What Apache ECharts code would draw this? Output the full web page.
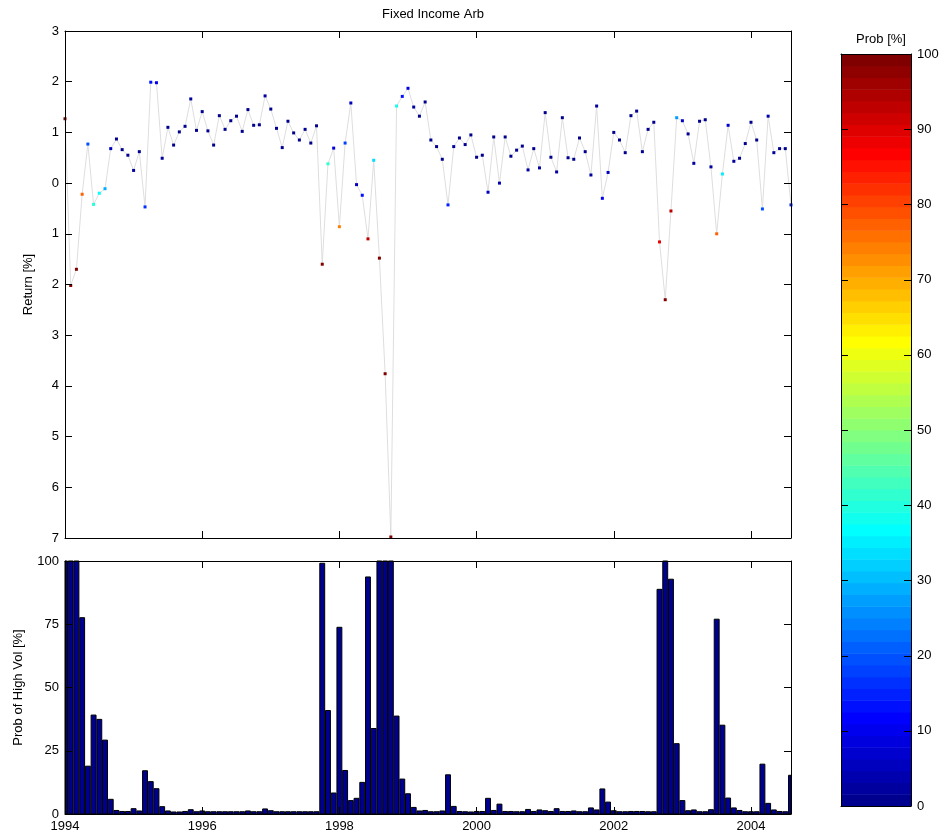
<!DOCTYPE html>
<html>
<head>
<meta charset="utf-8">
<script src="https://cdn.jsdelivr.net/npm/echarts@6/dist/echarts.min.js"></script>
<style>
html,body{margin:0;padding:0;background:#fff;}
#chart{width:945px;height:837px;}
</style>
</head>
<body>
<div id="chart"></div>
<script>
// ---- data ----
const startYear = 1994;
const monthlyReturn = [
  1.27,-2.02,-1.70,-0.22,0.77,-0.42,-0.20,-0.11,0.68,0.87,0.66,0.55,0.25,0.62,-0.47,1.99,1.98,0.49,1.10,0.75,1.01,1.12,1.66,1.04,1.41,1.03,0.75,1.33,1.06,1.23,1.32,1.02,1.45,
  1.14,1.15,1.72,1.46,1.08,0.70,1.22,0.99,0.85,1.06,0.79,1.13,-1.60,0.38,0.69,-0.86,0.79,1.58,-0.03,-0.24,-1.10,0.45,-1.48,-3.76,-6.98,1.52,1.71,1.87,1.50,1.32,1.60,
  0.85,0.72,0.47,-0.43,0.72,0.89,0.76,0.95,0.51,0.55,-0.18,0.91,0.00,0.91,0.53,0.65,0.73,0.26,0.68,0.30,1.39,0.51,0.22,1.29,0.50,0.47,0.89,0.62,0.16,1.52,-0.30,0.21,
  1.00,0.85,0.60,1.33,1.42,0.62,1.06,1.20,-1.16,-2.30,-0.55,1.29,1.23,0.97,0.39,1.22,1.25,0.32,-1.00,0.18,1.14,0.43,0.49,0.78,1.20,0.85,-0.51,1.32,0.60,0.68,0.68,-0.43
];
const probHighVol = [
  100,100,100,77.6,18.9,39.1,37.4,29.2,5.8,1.4,1.0,1.0,2.1,1.2,17.1,12.8,10.0,2.9,1.2,0.8,0.8,1.0,1.7,0.9,1.2,0.9,0.9,0.9,0.9,0.9,0.9,0.9,1.2,
  0.9,0.9,2.0,1.3,0.9,0.9,0.9,0.9,0.9,0.9,0.9,0.9,99.1,40.9,8.3,73.8,17.2,5.3,6.2,12.5,93.7,33.8,100,100,100,38.7,13.8,8.0,2.6,1.2,1.4,
  0.9,0.9,1.2,15.5,3.0,1.0,0.9,0.8,1.0,1.0,6.2,1.4,3.9,1.0,1.0,0.9,0.9,1.8,1.0,1.6,1.3,1.0,2.1,1.0,1.0,1.2,0.9,0.9,2.4,1.6,9.9,4.7,
  1.3,0.9,0.9,1.0,1.0,1.0,0.9,0.9,88.8,100,92.8,27.8,5.3,1.3,1.6,0.9,0.9,1.7,77.0,35.1,6.3,2.4,1.4,0.9,0.9,0.9,19.7,4.2,1.6,1.0,0.9,15.3
];
const returnTicks = [3,2,1,0,-1,-2,-3,-4,-5,-6,-7];
const probTicks = [0,25,50,75,100];
const colorbarTicks = [0,10,20,30,40,50,60,70,80,90,100];
const yearTicks = [1994,1996,1998,2000,2002,2004];

// ---- jet colormap (64 levels, MATLAB style) ----
function jetMap(m){
  const n = Math.ceil(m/4);
  const u = [];
  for(let i=1;i<=n;i++) u.push(i/n);
  for(let i=0;i<n-1;i++) u.push(1);
  for(let i=n;i>=1;i--) u.push(i/n);
  const gOff = Math.ceil(n/2) - (m%4===1?1:0);
  const J = [];
  for(let i=0;i<m;i++) J.push([0,0,0]);
  for(let k=0;k<u.length;k++){
    const g = gOff + k + 1, r = g + n, b = g - n;
    if(r<=m) J[r-1][0]=u[k];
    if(g<=m) J[g-1][1]=u[k];
    if(b>=1) J[b-1][2]=u[k];
  }
  return J.map(c=>'rgb('+c.map(v=>Math.round(v*255)).join(',')+')');
}
const JET = jetMap(64);
function probColor(p){ return JET[Math.max(0,Math.min(63,Math.floor(p/100*64)))]; }

const xs = monthlyReturn.map((_,i)=>startYear + i/12);
const xMax = xs[xs.length-1];
const lineData = monthlyReturn.map((v,i)=>[xs[i], v]);
const barData = probHighVol.map((v,i)=>[xs[i], v]);
const cbData = JET.map((c,i)=>[i*100/64,(i+1)*100/64,i]);
const cbTickData = colorbarTicks.map(v=>[0.5, v]);

const FONT = "'Liberation Sans', Arial, Helvetica, sans-serif";
const lab = {color:'#000', fontFamily:FONT, fontSize:13};
const axLine = () => ({show:true, onZero:false, lineStyle:{color:'#000', width:1}});
const tickIn = () => ({show:true, inside:true, length:7, lineStyle:{color:'#000', width:1}});
const isInt = v => Math.abs(v-Math.round(v))<1e-6;

function xAx(grid, pos, showLab){
  return {type:'value', gridIndex:grid, position:pos, min:1994, max:xMax, interval:2, z:10,
    axisLine:axLine(), axisTick:tickIn(), splitLine:{show:false},
    axisLabel:{show:showLab, margin:6, showMaxLabel:false, ...lab, formatter:v=> (isInt(v) && yearTicks.includes(Math.round(v))) ? String(Math.round(v)) : ''}};
}

const option = {
  animation:false,
  backgroundColor:'#fff',
  title:[
    {text:'Fixed Income Arb', left:428, top:3, textAlign:'center', textStyle:{fontFamily:FONT, fontSize:13, fontWeight:'normal', color:'#000'}},
    {text:'Prob [%]', left:876, top:28, textAlign:'center', textStyle:{fontFamily:FONT, fontSize:13, fontWeight:'normal', color:'#000'}}
  ],
  grid:[
    {left:65, top:31, width:726, height:507, outerBoundsMode:'none'},
    {left:65, top:561, width:726, height:253, outerBoundsMode:'none'},
    {left:841, top:54, width:70, height:752, outerBoundsMode:'none'}
  ],
  xAxis:[
    xAx(0,'bottom',false),
    xAx(0,'top',false),
    xAx(1,'bottom',true),
    xAx(1,'top',false),
    {type:'value', gridIndex:2, position:'bottom', min:0, max:1, z:10, axisLine:axLine(), axisTick:{show:false}, axisLabel:{show:false}, splitLine:{show:false}},
    {type:'value', gridIndex:2, position:'top', min:0, max:1, z:10, axisLine:axLine(), axisTick:{show:false}, axisLabel:{show:false}, splitLine:{show:false}}
  ],
  yAxis:[
    {type:'value', gridIndex:0, position:'left', min:-7, max:3, interval:1, z:10,
      axisLine:axLine(), axisTick:tickIn(), splitLine:{show:false},
      axisLabel:{...lab, margin:6, formatter:v=>String(Math.abs(v))},
      name:'Return [%]', nameLocation:'middle', nameGap:30, nameTextStyle:{...lab}},
    {type:'value', gridIndex:0, position:'right', min:-7, max:3, interval:1, z:10,
      axisLine:axLine(), axisTick:tickIn(), splitLine:{show:false}, axisLabel:{show:false}},
    {type:'value', gridIndex:1, position:'left', min:0, max:100, interval:25, z:10,
      axisLine:axLine(), axisTick:tickIn(), splitLine:{show:false},
      axisLabel:{...lab, margin:6},
      name:'Prob of High Vol [%]', nameLocation:'middle', nameGap:40, nameTextStyle:{...lab}},
    {type:'value', gridIndex:1, position:'right', min:0, max:100, interval:25, z:10,
      axisLine:axLine(), axisTick:tickIn(), splitLine:{show:false}, axisLabel:{show:false}},
    {type:'value', gridIndex:2, position:'left', min:0, max:100, interval:10, z:10,
      axisLine:axLine(), axisTick:{show:false}, splitLine:{show:false}, axisLabel:{show:false}},
    {type:'value', gridIndex:2, position:'right', min:0, max:100, interval:10, z:10,
      axisLine:axLine(), axisTick:{show:false}, splitLine:{show:false}, axisLabel:{...lab, margin:6}}
  ],
  series:[
    {type:'line', xAxisIndex:0, yAxisIndex:0, data:lineData, showSymbol:false, symbol:'none',
      lineStyle:{color:'#dedede', width:1}, z:2, silent:true},
    {type:'scatter', xAxisIndex:0, yAxisIndex:0, data:lineData, symbol:'rect', symbolSize:3, z:3,
      itemStyle:{opacity:1, color:p=>probColor(probHighVol[p.dataIndex])}, silent:true},
    {type:'custom', xAxisIndex:2, yAxisIndex:2, data:barData, silent:true, z:2,
      renderItem:(params, api)=>{
        const top = api.coord([api.value(0), api.value(1)]);
        const base = api.coord([api.value(0), 0]);
        const w = api.size([1/12, 0])[0]*0.86;
        const cs = params.coordSys;
        const shape = echarts.graphic.clipRectByRect(
          {x: top[0]-w/2, y: top[1], width: w, height: base[1]-top[1]},
          {x: cs.x, y: cs.y, width: cs.width, height: cs.height});
        if(!shape) return null;
        return {type:'rect', shape, style:{fill:'rgb(0,0,143)', stroke:'#000', lineWidth:1}};
      }},
    {type:'custom', xAxisIndex:4, yAxisIndex:4, data:cbData, silent:true, z:1,
      renderItem:(params, api)=>{
        const p1 = api.coord([0, api.value(0)]);
        const p2 = api.coord([1, api.value(1)]);
        return {type:'rect', shape:{x:p1[0], y:p2[1], width:p2[0]-p1[0], height:p1[1]-p2[1]+0.5},
          style:{fill:JET[api.value(2)]}};
      }},
    {type:'custom', xAxisIndex:4, yAxisIndex:4, data:cbTickData, silent:true, z:5,
      renderItem:(params, api)=>{
        const y = Math.round(api.coord([0, api.value(1)])[1]) + 0.5;
        const xl = api.coord([0, 0])[0], xr = api.coord([1, 0])[0];
        return {type:'group', children:[
          {type:'line', shape:{x1:xl, y1:y, x2:xl+7, y2:y}, style:{stroke:'#000', lineWidth:1}},
          {type:'line', shape:{x1:xr-7, y1:y, x2:xr, y2:y}, style:{stroke:'#000', lineWidth:1}}
        ]};
      }}
  ]
};
const chart = echarts.init(document.getElementById('chart'), null, {renderer:'canvas'});
chart.setOption(option);
</script>
</body>
</html>
